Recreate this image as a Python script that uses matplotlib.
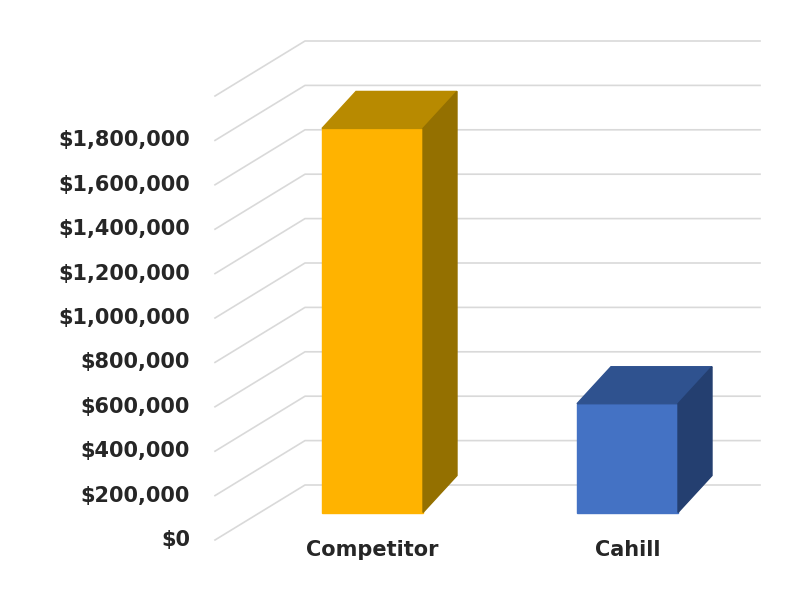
import matplotlib.pyplot as plt
from matplotlib.patches import Polygon

categories = ["Competitor", "Cahill"]
values = [1730000, 490000]
ticks = [0, 200000, 400000, 600000, 800000, 1000000, 1200000, 1400000, 1600000, 1800000]
grid_top = 2000000

front_colors = ["#FFB300", "#4472C4"]
top_colors = ["#B88A00", "#2F528F"]
side_colors = ["#947000", "#243F70"]

# pseudo-3D layout in pixel units
X0, Y0 = 215, 540          # front-left corner of the floor
DX, DY = 90, -55           # depth offset of the walls
SCALE = 44.4 / 200000      # pixels per dollar
RIGHT = 760
bar_left = [322, 577]
BAR_W = 101
BX, BY = 34, -37           # bar depth

fig = plt.figure(figsize=(8, 6), dpi=100)
ax = fig.add_axes([0, 0, 1, 1])
ax.set_xlim(0, 800)
ax.set_ylim(600, 0)
ax.axis("off")

grid = ticks + [grid_top]
for v in grid:
    yf = Y0 - v * SCALE
    ax.plot([X0, X0 + DX, RIGHT], [yf, yf + DY, yf + DY], color="#d9d9d9", lw=1.2, zorder=1)

for v in ticks:
    ax.text(190, Y0 - v * SCALE, f"${v:,.0f}", ha="right", va="center",
            fontsize=15, fontweight="bold", color="#262626")

for i, (name, v) in enumerate(zip(categories, values)):
    x1 = bar_left[i]
    x2 = x1 + BAR_W
    yb = Y0 + DY / 2
    yt = yb - v * SCALE
    ax.add_patch(Polygon([(x1, yb), (x2, yb), (x2, yt), (x1, yt)], color=front_colors[i], zorder=3))
    ax.add_patch(Polygon([(x1, yt), (x2, yt), (x2 + BX, yt + BY), (x1 + BX, yt + BY)],
                         color=top_colors[i], zorder=3))
    ax.add_patch(Polygon([(x2, yb), (x2 + BX, yb + BY), (x2 + BX, yt + BY), (x2, yt)],
                         color=side_colors[i], zorder=3))
    ax.text(x1 + BAR_W / 2, 550, name, ha="center", va="center",
            fontsize=15, fontweight="bold", color="#262626")

fig.savefig("out.png", dpi=100)
